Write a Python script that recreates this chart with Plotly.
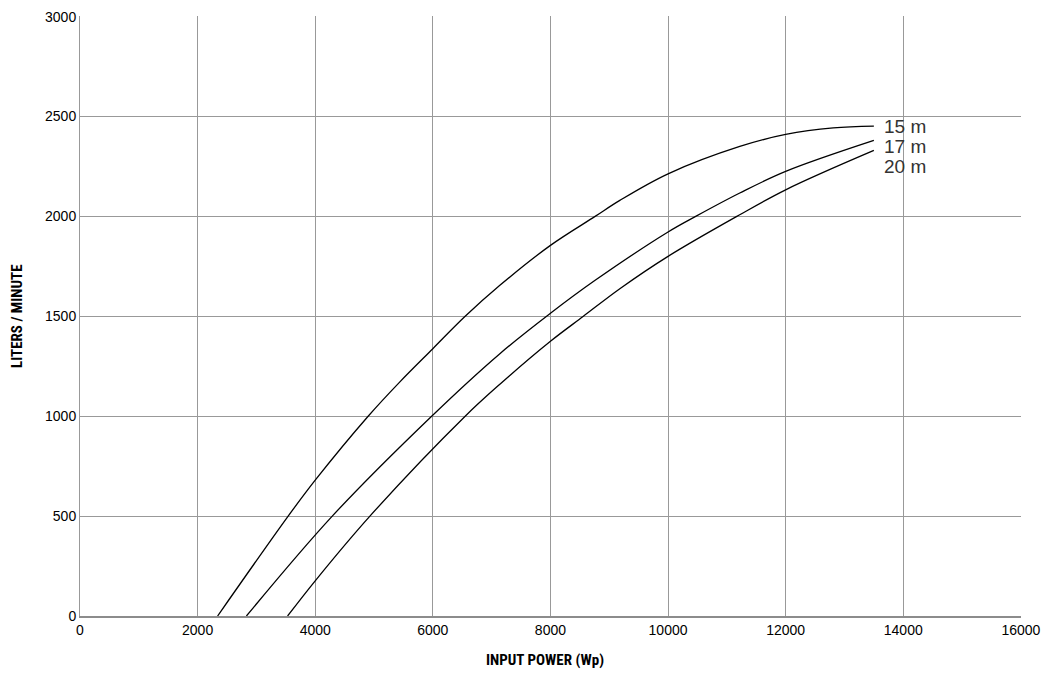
import plotly.graph_objects as go

# Data
x_15 = [2340, 3540, 4000, 4900, 5440, 6000, 6550, 7140, 8000, 8760, 9180, 10000, 11220, 12000, 12810, 13500]
y_15 = [0, 500, 680, 1000, 1172, 1338, 1500, 1655, 1855, 2000, 2080, 2213, 2350, 2410, 2443, 2452]

x_17 = [2830, 4290, 5980, 7140, 8000, 8760, 10000, 10470, 11220, 12000, 13500]
y_17 = [0, 500, 1000, 1313, 1515, 1680, 1922, 2000, 2117, 2225, 2380]

x_20 = [3530, 4010, 4930, 6550, 7140, 8000, 8560, 9180, 10000, 11170, 12000, 13500]
y_20 = [0, 180, 500, 1000, 1160, 1375, 1500, 1638, 1800, 2000, 2133, 2330]

series = [("15 m", x_15, y_15), ("17 m", x_17, y_17), ("20 m", x_20, y_20)]
label_y = [2450, 2350, 2250]
label_x = 13640

x_ticks = [0, 2000, 4000, 6000, 8000, 10000, 12000, 14000, 16000]
y_ticks = [0, 500, 1000, 1500, 2000, 2500, 3000]

fig = go.Figure()
for name, xs, ys in series:
    fig.add_trace(go.Scatter(x=xs, y=ys, mode="lines", name=name,
                             line=dict(color="black", width=1.3, shape="spline", smoothing=1.0),
                             showlegend=False, hoverinfo="skip"))

for (name, _, _), ly in zip(series, label_y):
    fig.add_annotation(x=label_x, y=ly, xref="x", yref="y", text=name, showarrow=False,
                       xanchor="left", yanchor="middle",
                       font=dict(size=19, color="#333333", family="Liberation Sans, Arial, sans-serif"))

title_font = dict(size=15, color="black",
                  family="Liberation Sans Narrow, Roboto Condensed, Arial Narrow, sans-serif")
fig.add_annotation(x=0.494, y=-0.073, xref="paper", yref="paper", text="<b>INPUT POWER (Wp)</b>",
                   showarrow=False, xanchor="center", yanchor="middle", font=title_font)
fig.add_annotation(x=-0.067, y=0.5, xref="paper", yref="paper", text="<b>LITERS / MINUTE</b>",
                   showarrow=False, xanchor="center", yanchor="middle", textangle=-90, font=title_font)

axis_font = dict(size=14, color="black", family="Liberation Sans, Arial, sans-serif")
fig.update_layout(
    width=1045, height=674,
    margin=dict(l=80, r=24, t=16, b=58),
    paper_bgcolor="white", plot_bgcolor="white",
    xaxis=dict(range=[0, 16002], tickvals=x_ticks, ticktext=[str(v) for v in x_ticks],
               showgrid=True, gridcolor="#999999", gridwidth=1, zeroline=False,
               showline=True, linecolor="#8c8c8c", linewidth=2,
               tickfont=axis_font, ticks="", automargin=False),
    yaxis=dict(range=[0, 3003], tickvals=y_ticks, ticktext=[str(v) for v in y_ticks],
               showgrid=True, gridcolor="#999999", gridwidth=1, zeroline=False,
               showline=True, linecolor="#999999", linewidth=1,
               tickfont=axis_font, ticks="", automargin=False),
)

fig.write_html("out.html", config={"displayModeBar": False},
               post_script="document.body.style.margin='0';document.body.style.overflow='hidden';")
